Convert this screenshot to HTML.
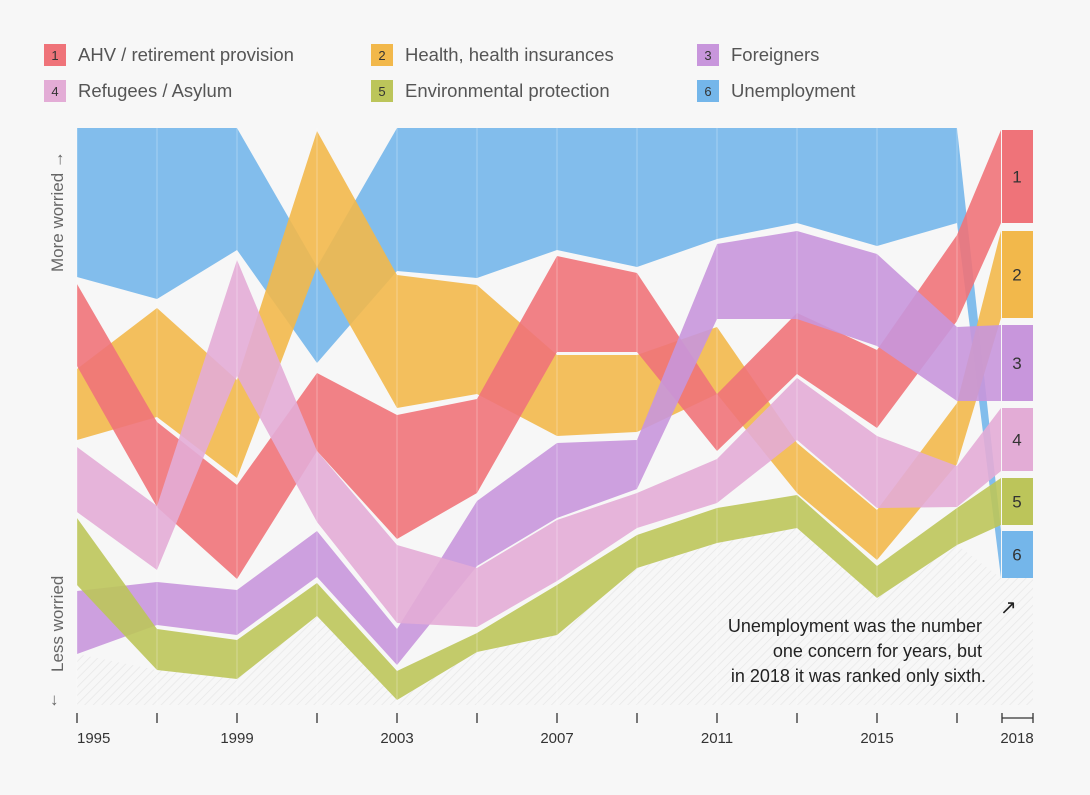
<!DOCTYPE html>
<html><head><meta charset="utf-8">
<style>
body{margin:0;background:#f7f7f7;font-family:"Liberation Sans",sans-serif;}
#wrap{position:relative;width:1090px;height:795px;overflow:hidden;background:#f7f7f7}
.leg{position:absolute;display:flex;align-items:center;font-size:18.5px;color:#555}
.sw{width:22px;height:22px;font-size:13px;color:#333;display:flex;align-items:center;justify-content:center;margin-right:12px}
</style></head>
<body>
<div id="wrap">
 <div class="leg" style="left:44px;top:44px"><div class="sw" style="background:#ef7379">1</div>AHV / retirement provision</div>
 <div class="leg" style="left:371px;top:44px"><div class="sw" style="background:#f2b84b">2</div>Health, health insurances</div>
 <div class="leg" style="left:697px;top:44px"><div class="sw" style="background:#c896dc">3</div>Foreigners</div>
 <div class="leg" style="left:44px;top:80px"><div class="sw" style="background:#e3acd6">4</div>Refugees / Asylum</div>
 <div class="leg" style="left:371px;top:80px"><div class="sw" style="background:#bcc55a">5</div>Environmental protection</div>
 <div class="leg" style="left:697px;top:80px"><div class="sw" style="background:#74b6ea">6</div>Unemployment</div>
 <svg id="chart" width="1090" height="795" style="position:absolute;left:0;top:0">
  <defs>
   <pattern id="hatch" width="6" height="6" patternUnits="userSpaceOnUse" patternTransform="rotate(45)">
    <rect width="6" height="6" fill="#f7f7f7"/><line x1="0" y1="0" x2="0" y2="6" stroke="#e8e8e8" stroke-width="1.5"/>
   </pattern>
  </defs>
  <g id="hatchg"></g><g id="bands"></g><g id="grid"></g><g id="boxes"></g><g id="axis"></g>
  <text transform="translate(63,272) rotate(-90)" font-size="17" fill="#666">More worried  →</text>
  <text transform="translate(63,672) rotate(-90)" font-size="17" fill="#666">Less worried</text>
  <text x="50" y="705" font-size="17" fill="#666">↓</text>
  <g font-size="18" fill="#222" text-anchor="end">
   <text x="982" y="632">Unemployment was the number</text>
   <text x="982" y="657">one concern for years, but</text>
   <text x="986" y="682">in 2018 it was ranked only sixth.</text>
  </g>
  <text x="1000" y="614" font-size="20" fill="#222">↗</text>
 </svg>
</div>
<script>
const years=[1995,1997,1999,2001,2003,2005,2007,2009,2011,2013,2015,2017,2018];
const tickLabels=["1995","1999","2003","2007","2011","2015","2018"];
const seriesNames=["AHV","Health","Foreigners","Refugees","Environment","Unemployment"];
const ahvTop=[15.6,29.4,35.7,24.5,28.7,27.1,12.8,14.5,26.6,18.5,22.2,10.7,0.2];
const ahvBot=[23.8,37.9,45.1,32.3,41.1,36.5,22.4,22.4,32.3,24.6,30.0,19.3,9.5];
const healthTop=[24.1,18.0,25.2,0.3,14.7,15.7,22.7,22.7,19.9,31.5,38.2,27.5,10.3];
const healthBot=[31.2,28.9,35.0,13.9,28.0,26.6,30.8,30.4,26.6,36.5,43.2,33.6,19.0];
const foreignTop=[46.3,45.4,46.2,40.3,50.1,37.3,31.5,31.2,11.6,10.3,12.6,19.9,19.7];
const foreignBot=[52.6,49.7,50.7,44.9,53.7,43.8,39.0,36.1,19.1,19.1,21.8,27.3,27.3];
const refugeeTop=[31.9,37.8,13.2,32.3,41.7,44.0,39.2,36.5,33.1,25.0,30.8,33.8,28.0];
const refugeeBot=[38.4,44.2,24.8,39.4,49.5,49.9,45.3,40.0,37.5,31.2,38.0,37.9,34.3];
const envTop=[39.0,50.1,51.2,45.5,54.3,50.5,45.7,40.7,38.0,36.7,43.8,38.0,35.0];
const envBot=[45.7,54.2,55.1,48.8,57.2,52.4,50.7,44.0,41.5,40.0,47.0,41.7,39.7];
const unempTop=[0,0,0,13.9,0,0,0,0,0,0,0,0,40.3];
const unempBot=[14.9,17.1,12.2,23.5,14.3,15.0,12.2,13.9,11.1,9.5,11.8,9.5,45.0];

const NS="http://www.w3.org/2000/svg";
function x(yr){return yr===2018?1001:77+(yr-1995)*40;}
function y(v){return 128+v*10;}
const colors=["#ef7379","#f2b84b","#c896dc","#e3acd6","#bcc55a","#74b6ea"];
const tops=[ahvTop,healthTop,foreignTop,refugeeTop,envTop,unempTop];
const bots=[ahvBot,healthBot,foreignBot,refugeeBot,envBot,unempBot];
const bandsG=document.getElementById('bands');
const order=[5,1,0,2,3,4];
let hp=[];
years.forEach((yr,i)=>{hp.push(x(yr)+','+y(Math.max(...bots.map(b=>b[i]))));});
hp.push('1033,'+y(unempBot[12]));hp.push('1033,705');hp.push('77,705');
const hatch=document.createElementNS(NS,'polygon');
hatch.setAttribute('points',hp.join(' '));hatch.setAttribute('fill','url(#hatch)');


document.getElementById('hatchg').appendChild(hatch);
order.forEach(s=>{
 const pts=[];
 years.forEach((yr,i)=>pts.push(x(yr)+','+y(tops[s][i])));
 for(let i=years.length-1;i>=0;i--)pts.push(x(years[i])+','+y(bots[s][i]));
 const p=document.createElementNS(NS,'polygon');
 p.setAttribute('points',pts.join(' '));p.setAttribute('fill',colors[s]);p.setAttribute('fill-opacity','0.9');
 
 
 bandsG.appendChild(p);
});
const grid=document.getElementById('grid');
years.slice(0,12).forEach(yr=>{
 const l=document.createElementNS(NS,'line');
 l.setAttribute('x1',x(yr));l.setAttribute('x2',x(yr));l.setAttribute('y1',128);l.setAttribute('y2',705);
 l.setAttribute('stroke','#fff');l.setAttribute('stroke-opacity','0.3');l.setAttribute('stroke-width','1');
 
 
 grid.appendChild(l);
});
const boxes=document.getElementById('boxes');
for(let s=0;s<6;s++){
 const r=document.createElementNS(NS,'rect');
 const t=y(tops[s][12]),b=y(bots[s][12]);
 r.setAttribute('x',1002);r.setAttribute('width',31);r.setAttribute('y',t);r.setAttribute('height',b-t);
 r.setAttribute('fill',colors[s]);
 
 
 boxes.appendChild(r);
 const tx=document.createElementNS(NS,'text');
 tx.setAttribute('x',1017);tx.setAttribute('y',(t+b)/2+6);tx.setAttribute('text-anchor','middle');
 tx.setAttribute('font-size','17');tx.setAttribute('fill','#333');tx.textContent=String(s+1);
 
 
 boxes.appendChild(tx);
}
const axis=document.getElementById('axis');
years.slice(0,12).forEach(yr=>{
 const l=document.createElementNS(NS,'line');
 l.setAttribute('x1',x(yr));l.setAttribute('x2',x(yr));l.setAttribute('y1',713);l.setAttribute('y2',723);
 l.setAttribute('stroke','#333');l.setAttribute('stroke-width','1.3');
 
 
 axis.appendChild(l);
});
const br=document.createElementNS(NS,'path');
br.setAttribute('d','M1002,713V723M1033,713V723M1002,718H1033');br.setAttribute('stroke','#333');br.setAttribute('stroke-width','1.3');br.setAttribute('fill','none');


axis.appendChild(br);
tickLabels.forEach(lb=>{
 const yr=+lb;const t=document.createElementNS(NS,'text');
 let cx=yr===2018?1017:x(yr);
 t.setAttribute('x',yr===1995?77:cx);t.setAttribute('y',743);
 t.setAttribute('text-anchor',yr===1995?'start':'middle');
 t.setAttribute('font-size','15');t.setAttribute('fill','#333');t.textContent=lb;
 
 
 axis.appendChild(t);
});
</script>
</body></html>
